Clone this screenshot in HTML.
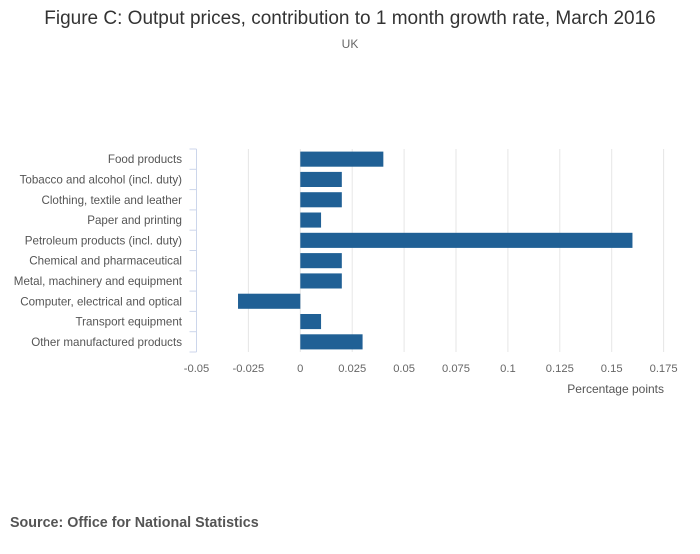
<!DOCTYPE html>
<html><head><meta charset="utf-8"><style>
body{margin:0;background:#fff;font-family:"Liberation Sans",sans-serif;}
</style></head><body>
<svg width="700" height="549" xmlns="http://www.w3.org/2000/svg" id="chart" style="font-family:'Liberation Sans',sans-serif">
<text x="350" y="24" text-anchor="middle" font-size="19" fill="#333">Figure C: Output prices, contribution to 1 month growth rate, March 2016</text>
<text x="350" y="48" text-anchor="middle" font-size="12" fill="#666">UK</text>
<text x="10" y="527" font-size="14.3" font-weight="bold" fill="#555">Source: Office for National Statistics</text>
<text x="664" y="393" text-anchor="end" font-size="12" fill="#555">Percentage points</text>
<g id="grid"></g><g id="bars"></g><g id="axis"></g>
</svg>
<script>
const categories=["Food products","Tobacco and alcohol (incl. duty)","Clothing, textile and leather","Paper and printing","Petroleum products (incl. duty)","Chemical and pharmaceutical","Metal, machinery and equipment","Computer, electrical and optical","Transport equipment","Other manufactured products"];
const values=[0.04,0.02,0.02,0.01,0.16,0.02,0.02,-0.03,0.01,0.03];
const ticks=[-0.05,-0.025,0,0.025,0.05,0.075,0.1,0.125,0.15,0.175];
const tickLabels=["-0.05","-0.025","0","0.025","0.05","0.075","0.1","0.125","0.15","0.175"];
const NS="http://www.w3.org/2000/svg";
const xMin=-0.05,xMax=0.175,plotLeft=196.5,plotRight=663.6,plotTop=149,plotBottom=352;
const xScale=v=>plotLeft+(v-xMin)/(xMax-xMin)*(plotRight-plotLeft);
const band=(plotBottom-plotTop)/categories.length;
const yScale=i=>plotTop+i*band;
function mk(t,a,p){const e=document.createElementNS(NS,t);for(const k in a)e.setAttribute(k,a[k]);p.appendChild(e);return e;}
const gridG=document.getElementById('grid'),barsG=document.getElementById('bars'),axisG=document.getElementById('axis');
ticks.forEach((t,i)=>{
  if(i>0){const g=mk('line',{x1:xScale(t),x2:xScale(t),y1:plotTop,y2:plotBottom,stroke:'#e6e6e6','stroke-width':1},gridG);
  
  }
  const l=mk('text',{x:xScale(t),y:372,'text-anchor':'middle','font-size':11.2,fill:'#666'},axisG);
  l.textContent=tickLabels[i];
  
  
});
const al=mk('line',{x1:plotLeft,x2:plotLeft,y1:plotTop,y2:plotBottom,stroke:'#ccd6eb','stroke-width':1},axisG);


for(let i=0;i<=categories.length;i++){
  const tk=mk('line',{x1:plotLeft-7,x2:plotLeft,y1:yScale(i),y2:yScale(i),stroke:'#ccd6eb','stroke-width':1},axisG);
  
  
}
categories.forEach((c,i)=>{
  const l=mk('text',{x:182,y:yScale(i)+band/2+4,'text-anchor':'end','font-size':11.6,fill:'#555'},axisG);
  l.textContent=c;
  
  
  const v=values[i],x0=xScale(0),x1=xScale(v);
  const r=mk('rect',{x:Math.min(x0,x1),y:yScale(i)+2.6,width:Math.abs(x1-x0),height:band-5.2,fill:'#206095'},barsG);
  
  
});
</script>
</body></html>
